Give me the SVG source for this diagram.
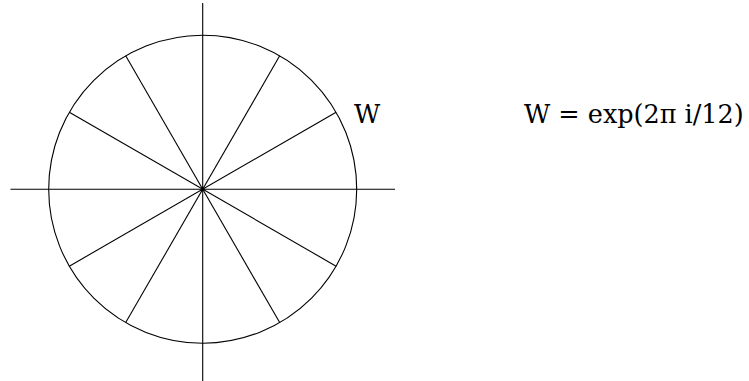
<svg xmlns="http://www.w3.org/2000/svg" width="749" height="381" viewBox="0 0 749 381">
<style>
.l{stroke:#000;stroke-width:1.1;fill:none}
.t{font-family:'DejaVu Serif',serif;font-size:25.5px;fill:#000}
</style>
<rect width="749" height="381" fill="#fff"/>
<g id="circle"><circle class="l" cx="202.7" cy="189.2" r="154"/></g>
<g id="connectors">
<line class="l" x1="202.7" y1="3" x2="202.7" y2="381"/>
<line class="l" x1="10.5" y1="189.2" x2="395" y2="189.2"/>
<line class="l" x1="69.3" y1="112.2" x2="336.1" y2="266.2"/>
<line class="l" x1="125.7" y1="55.8" x2="279.7" y2="322.6"/>
<line class="l" x1="279.7" y1="55.8" x2="125.7" y2="322.6"/>
<line class="l" x1="336.1" y1="112.2" x2="69.3" y2="266.2"/>
<circle cx="202.7" cy="189.2" r="2" fill="#000"/>
</g>
<g id="label-w"><text class="t" x="354" y="123">W</text></g>
<g id="formula"><text class="t" x="524" y="123">W = exp(2π i/12)</text></g>
</svg>
